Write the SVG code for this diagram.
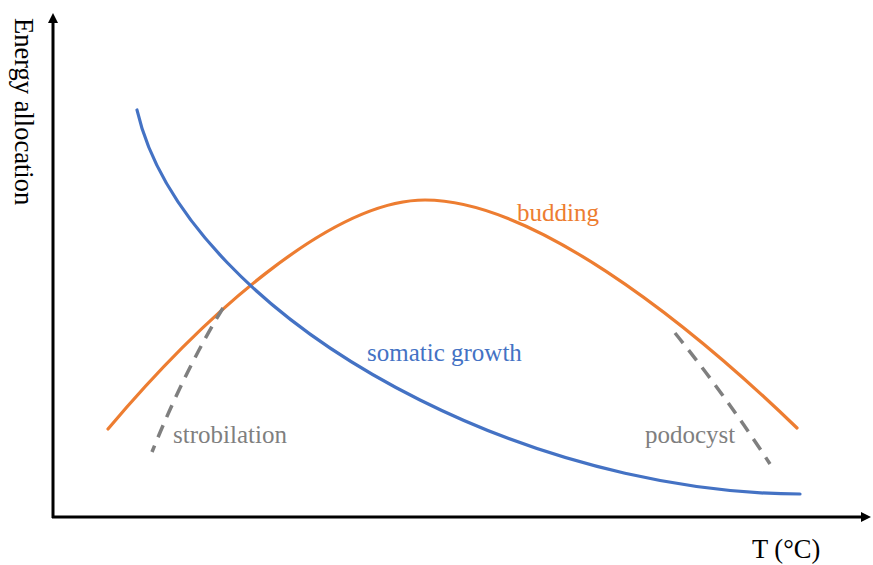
<svg xmlns="http://www.w3.org/2000/svg" width="873" height="565" viewBox="0 0 873 565">
<style>
.lbl{font-family:"Liberation Serif","Times New Roman",serif;font-size:25px}
.ax{font-family:"Liberation Serif","Times New Roman",serif;font-size:26.5px}
.curve{fill:none;stroke-width:3.2;stroke-linecap:round}
.dash{fill:none;stroke:#7F7F7F;stroke-width:3.5;stroke-dasharray:13,9}
.axis{stroke:#000;stroke-width:3;fill:none}
</style>
<defs>
<marker id="ah" markerWidth="10" markerHeight="10" refX="5" refY="5" orient="auto" markerUnits="userSpaceOnUse">
<path d="M0,0 L10,5 L0,10 z" fill="#000"/>
</marker>
</defs>
<rect width="873" height="565" fill="#fff"/>
<g id="axes">
<line class="axis" x1="53" y1="518" x2="53" y2="18" marker-end="url(#ah)"/>
<line class="axis" x1="52" y1="517" x2="866" y2="517" marker-end="url(#ah)"/>
<text class="ax" transform="translate(15,18) rotate(90)" fill="#000">Energy allocation</text>
<text class="ax" x="752" y="558" fill="#000">T (°C)</text>
</g>
<g id="connectors">
<path id="budding-curve" class="curve" stroke="#ED7D31" d="M108,429 C200,320 330,200 425,200 C530,200 680,315 797,428"/>
<path id="somatic-curve" class="curve" stroke="#4472C4" d="M137,110 C160,210 260,320 420,400 C560,470 700,494 800,494"/>
<path id="strobilation-curve" class="dash" d="M223,308 Q185,370 152,452"/>
<path id="podocyst-curve" class="dash" d="M675,333 Q725,395 770,464"/>
</g>
<g id="label-budding"><text class="lbl" x="517" y="221" fill="#ED7D31">budding</text></g>
<g id="label-somatic"><text class="lbl" x="367" y="361" fill="#4472C4">somatic growth</text></g>
<g id="label-strobilation"><text class="lbl" x="173" y="443" fill="#7F7F7F">strobilation</text></g>
<g id="label-podocyst"><text class="lbl" x="645" y="443" fill="#7F7F7F">podocyst</text></g>
</svg>
